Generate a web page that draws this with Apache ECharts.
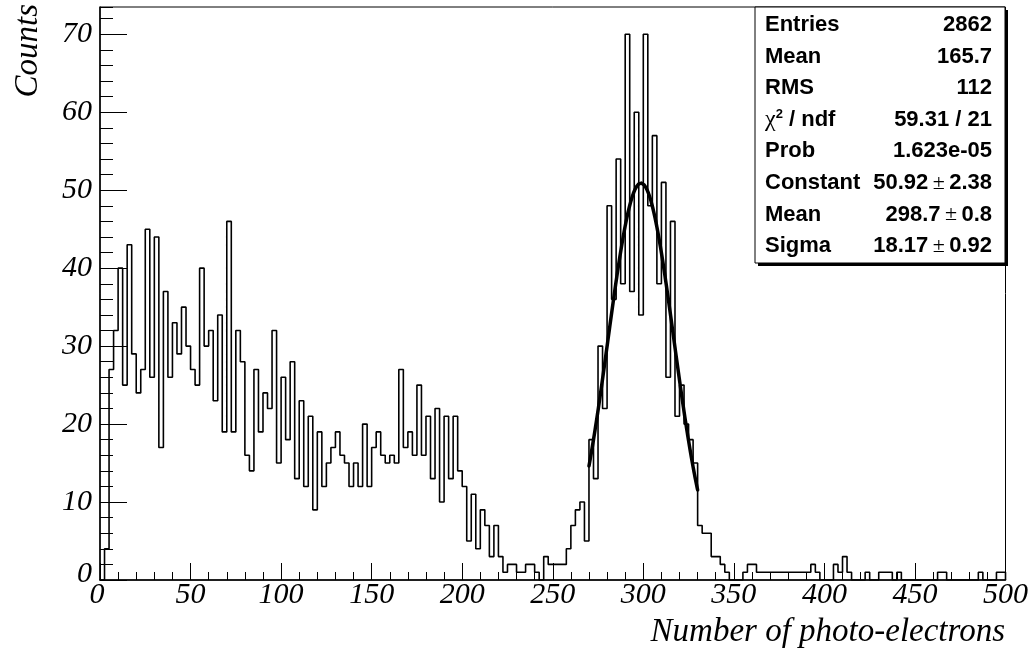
<!DOCTYPE html>
<html>
<head>
<meta charset="utf-8">
<script src="https://cdn.jsdelivr.net/npm/echarts@6/dist/echarts.min.js"></script>
<style>
  html, body { margin: 0; padding: 0; background: #fff; }
  #chart { width: 1031px; height: 651px; }
</style>
</head>
<body>
<div id="chart"></div>
<script>
// Photo-electron spectrum: 200 bins of width 2.5 over [0, 500]
const xMin = 0;
const xMax = 500;
const binWidth = 2.5;
const yMax = 73.5;

const counts = [
  0, 4, 27, 32, 40, 25, 43, 29, 24, 27, 45, 26, 44, 17, 37, 26, 33, 29, 35, 30, 27, 25, 40, 30, 32, 23, 34, 19,
  46, 19, 32, 28, 16, 14, 27, 19, 24, 22, 32, 15, 26, 18, 28, 13, 23, 12, 21, 9, 19, 12, 15, 17, 19, 16,
  15, 12, 15, 12, 20, 12, 17, 19, 16, 15, 16, 15, 27, 17, 19, 16, 25, 16, 21, 13, 22, 10, 21, 13, 21, 14, 12,
  5, 11, 4, 9, 7, 3, 7, 3, 1, 2, 2, 1, 1, 2, 2, 1, 0, 3, 2, 2, 2, 2, 4, 7, 9, 10, 5,
  18, 13, 30, 22, 48, 36, 54, 38, 70, 37, 60, 34, 70, 48, 57, 38, 51, 26, 46, 21, 25, 20, 18, 15, 7, 6, 6, 3, 3, 2,
  1, 0, 0, 0, 1, 2, 2, 1, 1, 1, 1, 1, 1, 1, 1, 1, 1, 1, 1, 2, 1, 0, 0, 0, 2, 1, 3, 1, 0, 0, 0, 1,
  0, 0, 1, 1, 1, 0, 1, 0, 0, 0, 0, 0, 0, 0, 0, 1, 1, 0, 0, 0, 0, 0, 0, 0, 1, 0, 0, 0, 1, 1
];

// Gaussian fit parameters and fit range
const fitConstant = 50.92;
const fitMean = 298.7;
const fitSigma = 18.17;
const fitRange = [270, 330];

// Statistics box
const statNames = ['Entries', 'Mean', 'RMS', 'chi2', 'Prob', 'Constant', 'Mean', 'Sigma'];
const statValues = ['2862', '165.7', '112', '59.31 / 21', '1.623e-05',
                    '50.92|2.38', '298.7|0.8', '18.17|0.92'];

const xTitle = 'Number of photo-electrons';
const yTitle = 'Counts';

// Histogram outline as step points at bin low edges
const histData = [[xMin, 0]];
counts.forEach((c, i) => histData.push([xMin + i * binWidth, c]));
histData.push([xMax, counts[counts.length - 1]]);
histData.push([xMax, 0]);

// Fit curve sampled across its range
const fitData = [];
for (let x = fitRange[0]; x <= fitRange[1] + 1e-9; x += 0.25) {
  const u = (x - fitMean) / fitSigma;
  fitData.push([x, fitConstant * Math.exp(-0.5 * u * u)]);
}

const serif = '"Liberation Serif", "DejaVu Serif", serif';
const sans = '"Liberation Sans", Arial, sans-serif';

// Stats box geometry
const box = { x: 755, y: 7, w: 250, h: 256, shadow: 3 };
const rowTop = 25, rowStep = 31.6, textLeft = 765, textRight = 992;

const statGraphics = [];
statGraphics.push({ type: 'rect', shape: { x: box.x + box.shadow, y: box.y + box.shadow, width: box.w, height: box.h },
  style: { fill: '#000' }, z: 100 });
statGraphics.push({ type: 'rect', shape: { x: box.x, y: box.y, width: box.w, height: box.h },
  style: { fill: '#fff', stroke: '#000', lineWidth: 1 }, z: 101 });

const richStyles = {
  b: { fontFamily: sans, fontWeight: 'bold', fontSize: 22, fill: '#000' },
  g: { fontFamily: serif, fontWeight: 'normal', fontSize: 24, fill: '#000' },
  s: { fontFamily: sans, fontWeight: 'bold', fontSize: 13, fill: '#000', verticalAlign: 'top', padding: [0, 0, 9, 0] },
  pm: { fontFamily: serif, fontWeight: 'normal', fontSize: 22, fill: '#000' }
};

statNames.forEach((name, i) => {
  const y = rowTop + i * rowStep;
  const left = name === 'chi2' ? '{g|χ}{s|2}{b| / ndf}' : '{b|' + name + '}';
  const v = statValues[i];
  const right = v.indexOf('|') >= 0
    ? '{b|' + v.split('|')[0] + '}{pm|\u2009±\u2009}{b|' + v.split('|')[1] + '}'
    : '{b|' + v + '}';
  statGraphics.push({ type: 'text', z: 102, x: textLeft, y: y,
    style: { text: left, rich: richStyles, align: 'left', verticalAlign: 'middle' } });
  statGraphics.push({ type: 'text', z: 102, x: textRight, y: y,
    style: { text: right, rich: richStyles, align: 'right', verticalAlign: 'middle' } });
});

const labelFont = { fontFamily: serif, fontStyle: 'italic', fontSize: 30, color: '#000' };

// The zero labels of both axes are nudged apart at the origin
const xLabel = Object.assign({
  margin: 0,
  formatter: v => (v === 0 ? '{z|0}' : String(v)),
  rich: { z: Object.assign({ padding: [0, 6, 0, 0] }, labelFont) }
}, labelFont);
const yLabel = Object.assign({
  margin: 8, showMaxLabel: false,
  formatter: v => (v === 0 ? '{z|0}' : String(v)),
  rich: { z: Object.assign({ padding: [0, 0, 12, 0] }, labelFont) }
}, labelFont);

const chart = echarts.init(document.getElementById('chart'), null, { renderer: 'canvas' });
chart.setOption({
  animation: false,
  backgroundColor: '#fff',
  grid: { left: 100, right: 25, top: 7, bottom: 71, show: true, borderColor: '#000', borderWidth: 1, containLabel: false },
  xAxis: {
    type: 'value', min: xMin, max: xMax, interval: 50,
    axisLine: { show: true, lineStyle: { color: '#000', width: 1.5 } },
    axisTick: { show: true, inside: true, length: 17, lineStyle: { color: '#000', width: 1 } },
    minorTick: { show: true, splitNumber: 5, length: 8, lineStyle: { color: '#000', width: 1 } },
    splitLine: { show: false },
    axisLabel: xLabel
  },
  yAxis: [
    {
      type: 'value', min: 0, max: yMax, interval: 10, position: 'left',
      axisLine: { show: true, lineStyle: { color: '#000', width: 1.5 } },
      axisTick: { show: true, inside: true, length: 27, lineStyle: { color: '#000', width: 1 } },
      splitLine: { show: false },
      axisLabel: yLabel
    },
    {
      type: 'value', min: 0, max: yMax, interval: 2, position: 'left', offset: 0,
      axisLine: { show: false },
      axisTick: { show: true, inside: true, length: 13, lineStyle: { color: '#000', width: 1 } },
      splitLine: { show: false },
      axisLabel: { show: false }
    }
  ],
  series: [
    {
      type: 'line', data: histData, step: 'end', yAxisIndex: 0,
      showSymbol: false, symbol: 'none', clip: true,
      lineStyle: { color: '#000', width: 1.6 }, z: 3
    },
    {
      type: 'line', data: fitData, yAxisIndex: 0, smooth: false,
      showSymbol: false, symbol: 'none', clip: true,
      lineStyle: { color: '#000', width: 3.5, cap: 'round', join: 'round' }, z: 4
    }
  ],
  graphic: [
    { type: 'text', x: 1005, y: 632, z: 50,
      style: { text: xTitle, font: 'italic 33px ' + serif, fill: '#000', align: 'right', verticalAlign: 'middle' } },
    { type: 'text', x: 28, y: 4, rotation: Math.PI / 2, z: 50,
      style: { text: yTitle, font: 'italic 33px ' + serif, fill: '#000', align: 'right', verticalAlign: 'middle' } }
  ].concat(statGraphics)
});
</script>
</body>
</html>
